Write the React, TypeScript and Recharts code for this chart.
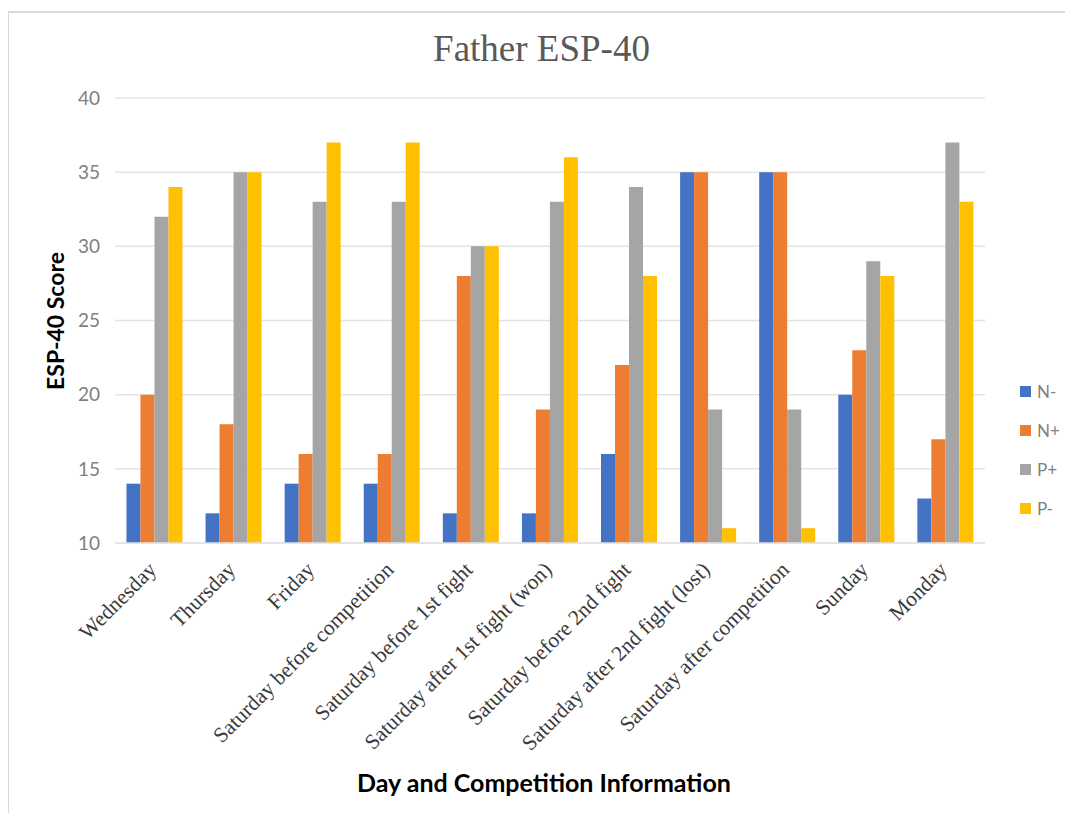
import React from 'react';
import { BarChart, Bar, XAxis, YAxis, CartesianGrid } from 'recharts';

const categories = [
  'Wednesday',
  'Thursday',
  'Friday',
  'Saturday before competition',
  'Saturday before 1st fight',
  'Saturday after 1st fight (won)',
  'Saturday before 2nd fight',
  'Saturday after 2nd fight (lost)',
  'Saturday after competition',
  'Sunday',
  'Monday',
];

const nMinus = [14, 12, 14, 14, 12, 12, 16, 35, 35, 20, 13];
const nPlus = [20, 18, 16, 16, 28, 19, 22, 35, 35, 23, 17];
const pPlus = [32, 35, 33, 33, 30, 33, 34, 19, 19, 29, 37];
const pMinus = [34, 35, 37, 37, 30, 36, 28, 11, 11, 28, 33];

const yTicks = [10, 15, 20, 25, 30, 35, 40];

const series = [
  { key: 'N-', color: '#4472C4' },
  { key: 'N+', color: '#ED7D31' },
  { key: 'P+', color: '#A5A5A5' },
  { key: 'P-', color: '#FFC000' },
];

const data = categories.map((name, i) => ({
  name,
  'N-': nMinus[i],
  'N+': nPlus[i],
  'P+': pPlus[i],
  'P-': pMinus[i],
}));

const SANS = 'Lato, "Open Sans", sans-serif';
const SERIF = '"Liberation Serif", "DejaVu Serif", serif';

function AngledTick(props: any) {
  const { x, y, payload } = props;
  const tx = x + 3;
  const ty = y + 20;
  return (
    <text
      x={tx}
      y={ty}
      transform={`rotate(-45, ${tx}, ${ty})`}
      textAnchor="end"
      fill="#3a3a3a"
      fontSize={21.5}
      fontFamily={SERIF}
    >
      {payload.value}
    </text>
  );
}

export default function App() {
  return (
    <div style={{ position: 'relative', width: 1073, height: 821, margin: -8, background: '#fff', overflow: 'hidden' }}>
      <div
        style={{
          position: 'absolute',
          left: 7,
          top: 11,
          width: 1200,
          height: 1000,
          borderLeft: '2px solid #d9d9d9',
          borderTop: '2px solid #d9d9d9',
        }}
      />
      <div
        style={{
          position: 'absolute',
          left: 0,
          width: 1083,
          top: 27,
          textAlign: 'center',
          fontFamily: SERIF,
          fontSize: 37,
          color: '#595959',
        }}
      >
        Father ESP-40
      </div>
      <div
        style={{
          position: 'absolute',
          left: 55,
          top: 321,
          transform: 'translate(-50%, -50%) rotate(-90deg)',
          whiteSpace: 'nowrap',
          fontFamily: SANS,
          fontWeight: 700,
          fontSize: 23,
          color: '#000',
        }}
      >
        ESP-40 Score
      </div>
      <div
        style={{
          position: 'absolute',
          left: 544,
          top: 782,
          transform: 'translate(-50%, -50%)',
          whiteSpace: 'nowrap',
          fontFamily: SANS,
          fontWeight: 700,
          fontSize: 25,
          color: '#000',
        }}
      >
        Day and Competition Information
      </div>
      <div style={{ position: 'absolute', left: 0, top: 0 }}>
        <BarChart
          width={1073}
          height={821}
          data={data}
          margin={{ top: 98, right: 88, bottom: 0, left: 0 }}
          barCategoryGap="14.5%"
          barGap={0}
        >
          <CartesianGrid vertical={false} stroke="#e3e3e3" strokeWidth={1.5} />
          <XAxis
            dataKey="name"
            height={278}
            interval={0}
            axisLine={{ stroke: '#e3e3e3', strokeWidth: 1.5 }}
            tickLine={false}
            tick={<AngledTick />}
          />
          <YAxis
            width={115}
            domain={[10, 40]}
            ticks={yTicks}
            allowDataOverflow
            axisLine={false}
            tickLine={false}
            tickSize={0}
            tickMargin={15}
            tick={{ fill: '#7f7f7f', fontSize: 19, fontFamily: SANS }}
          />
          {series.map((s) => (
            <Bar key={s.key} dataKey={s.key} fill={s.color} isAnimationActive={false} />
          ))}
        </BarChart>
      </div>
      <div style={{ position: 'absolute', left: 1020, top: 372 }}>
        {series.map((s) => (
          <div key={s.key} style={{ display: 'flex', alignItems: 'center', height: 39 }}>
            <div style={{ width: 11, height: 11, background: s.color, marginRight: 6 }} />
            <span style={{ fontFamily: SANS, fontSize: 17, color: '#7f7f7f' }}>{s.key}</span>
          </div>
        ))}
      </div>
    </div>
  );
}
